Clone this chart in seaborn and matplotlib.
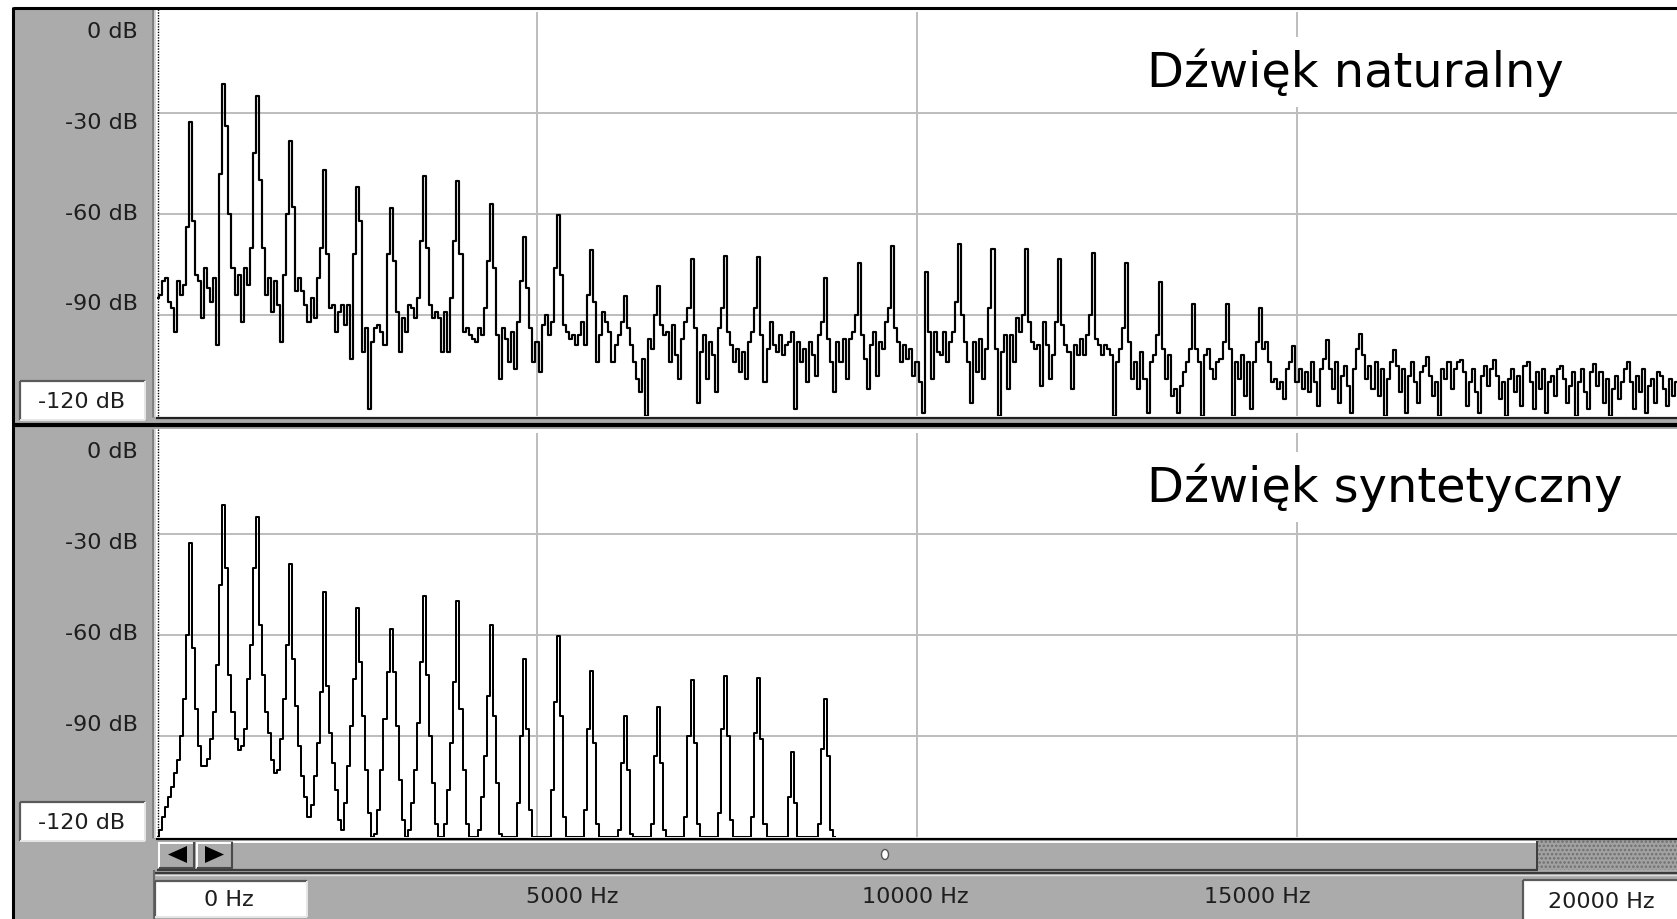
import numpy as np
import pandas as pd
import matplotlib
matplotlib.use("Agg")
import matplotlib.pyplot as plt
import seaborn as sns
from matplotlib.patches import Rectangle, Polygon, Ellipse
from matplotlib.lines import Line2D
from matplotlib.transforms import Affine2D

# ---------------- data ----------------
BIN_HZ = 40  # spectrum sampled every 40 Hz; row k starts at harmonic k (k*440 Hz)

natural_rows = [
    [-85, -84, -80, -79, -86, -88, -95, -80, -84, -81, -64],
    [-32.8, -62, -78, -80, -91, -76, -82, -86, -79, -99, -48],
    [-21.4, -34, -60, -76, -84, -78, -92, -76, -81, -70, -42],
    [-24.9, -50, -70, -84, -79, -89, -80, -87, -98, -78, -60],
    [-38.4, -58, -83, -79, -83, -87, -92, -85, -91, -79, -70],
    [-46.9, -72, -88, -87, -95, -89, -87, -93, -87, -103, -72],
    [-51.9, -62, -101, -94, -118, -98, -94, -93, -95, -99, -72],
    [-58.2, -74, -89, -101, -91, -95, -87, -88, -91, -85, -68],
    [-48.6, -70, -87, -91, -89, -91, -101, -89, -101, -85, -68],
    [-50.3, -72, -95, -94, -96, -97, -98, -94, -96, -88, -74],
    [-57.0, -76, -96, -109, -94, -97, -104, -95, -106, -92, -80],
    [-66.7, -82, -94, -104, -98, -107, -93, -90, -96, -92, -76],
    [-60.4, -78, -93, -95, -97, -96, -99, -96, -92, -99, -84],
    [-70.6, -86, -104, -96, -89, -92, -95, -104, -99, -96, -92],
    [-84.3, -94, -99, -104, -109, -113, -103, -120, -97, -100, -90],
    [-81.3, -93, -96, -95, -104, -93, -102, -109, -97, -92, -88],
    [-73.4, -94, -116, -101, -96, -109, -98, -102, -113, -94, -88],
    [-72.4, -95, -99, -104, -100, -107, -101, -109, -98, -95, -88],
    [-72.8, -96, -110, -100, -92, -99, -101, -96, -102, -99, -98],
    [-95.0, -118, -98, -104, -100, -110, -98, -102, -108, -96, -92],
    [-79.1, -97, -104, -113, -98, -104, -97, -109, -97, -95, -90],
    [-74.5, -96, -103, -112, -99, -95, -108, -98, -100, -92, -88],
    [-69.4, -94, -98, -104, -99, -103, -100, -108, -104, -110, -119],
    [-77.3, -95, -109, -95, -101, -102, -95, -104, -98, -95, -86],
    [-68.9, -90, -98, -104, -116, -98, -107, -97, -109, -100, -88],
    [-70.5, -100, -120, -101, -96, -112, -96, -104, -91, -95, -90],
    [-70.5, -92, -98, -100, -99, -111, -92, -99, -109, -102, -92],
    [-73.4, -93, -99, -101, -112, -99, -102, -97, -102, -96, -90],
    [-71.6, -97, -99, -102, -99, -100, -102, -120, -104, -100, -94],
    [-74.5, -98, -109, -104, -112, -101, -109, -119, -104, -102, -96],
    [-80.1, -100, -109, -102, -114, -112, -119, -111, -107, -104, -100],
    [-86.7, -100, -104, -120, -102, -100, -106, -109, -104, -103, -98],
    [-86.7, -100, -120, -104, -109, -102, -114, -104, -118, -104, -98],
    [-88.0, -100, -98, -104, -110, -109, -112, -110, -115, -106, -104],
    [-99.1, -110, -106, -112, -107, -113, -104, -110, -117, -106, -103],
    [-97.5, -106, -112, -104, -116, -108, -105, -111, -119, -106, -100],
    [-95.5, -102, -109, -105, -112, -104, -114, -106, -120, -109, -104],
    [-100.5, -105, -113, -106, -119, -108, -104, -110, -116, -107, -105],
    [-102.5, -108, -114, -110, -120, -106, -109, -104, -112, -106, -104],
    [-103.5, -107, -117, -110, -106, -113, -119, -108, -105, -111, -106],
    [-103.5, -108, -115, -110, -120, -109, -106, -113, -108, -117, -105],
    [-104.0, -110, -118, -107, -112, -106, -119, -110, -108, -114, -106],
    [-105.0, -109, -116, -111, -107, -120, -110, -106, -113, -118, -107],
    [-104.5, -111, -107, -116, -109, -120, -112, -108, -115, -110, -106],
    [-104.0, -110, -118, -108, -113, -106, -119, -111, -109, -116, -107],
    [-108.0, -112, -117, -109, -114, -110],
]

synthetic_rows = [
    [-120, -118, -114, -111, -108, -105, -101, -97, -90, -79, -60],
    [-32.8, -64, -82, -93, -98.8, -98.8, -96.8, -91, -83, -69, -45],
    [-21.4, -40, -72, -83, -91, -94.3, -93, -88, -73, -63, -40],
    [-24.9, -57, -72, -83, -89, -97, -101, -100, -91, -79, -63],
    [-38.9, -67, -81, -93, -102, -108, -114, -110.6, -102, -92, -77],
    [-47.3, -75, -89, -98, -106, -115, -118, -110, -99, -87, -73],
    [-52.0, -68, -84, -100, -113, -120, -119, -112, -100, -85, -71],
    [-58.2, -71, -87, -103, -115, -120, -118, -110, -100, -86, -68],
    [-48.5, -72, -90, -104, -116, -120, -120, -116, -106, -92, -74],
    [-49.8, -82, -100, -116, -120, -120, -120, -118, -108, -96, -78],
    [-56.9, -84, -104, -119, -120, -120, -120, -120, -120, -110, -90],
    [-67.1, -88, -112, -120, -120, -120, -120, -120, -120, -106, -80],
    [-60.4, -84, -114, -120, -120, -120, -120, -120, -120, -112, -88],
    [-70.6, -92, -116, -120, -120, -120, -120, -120, -120, -118, -98],
    [-84.1, -100, -119, -120, -120, -120, -120, -120, -120, -116, -96],
    [-81.5, -98, -118, -120, -120, -120, -120, -120, -120, -114, -90],
    [-73.3, -92, -116, -120, -120, -120, -120, -120, -120, -113, -88],
    [-72.3, -90, -115, -120, -120, -120, -120, -120, -120, -114, -89],
    [-72.8, -91, -116, -120, -120, -120, -120, -120, -120, -120, -108],
    [-94.8, -110, -120, -120, -120, -120, -120, -120, -120, -116, -94],
    [-79.0, -96, -118, -120],
]

natural_db = [v for row in natural_rows for v in row]
synthetic_db = [v for row in synthetic_rows for v in row]

freq_grid = [5000, 10000, 15000]
db_grid = [-30, -60, -90]
db_labels = ["0 dB", "-30 dB", "-60 dB", "-90 dB"]
floor_label = "-120 dB"
hz_labels = ["5000 Hz", "10000 Hz", "15000 Hz"]
hz_min_label = "0 Hz"
hz_max_label = "20000 Hz"
titles = ["Dźwięk naturalny", "Dźwięk syntetyczny"]

# ---------------- figure ----------------
W, H = 1677, 920
fig = plt.figure(figsize=(W / 100, H / 100), dpi=100)
fig.patch.set_facecolor("white")
PX = Affine2D().scale(1.0 / W, -1.0 / H).translate(0, 1) + fig.transFigure

GRAY = "#ababab"
GRID = "#bdbdbd"


def rect(x0, y0, x1, y1, fc, z=-1, **kw):
    fig.add_artist(Rectangle((x0, y0), x1 - x0, y1 - y0, transform=PX,
                             facecolor=fc, edgecolor=kw.pop("ec", "none"),
                             linewidth=kw.pop("lw", 0), zorder=z, **kw))


def seg(xs, ys, color, lw, z=5, **kw):
    fig.add_artist(Line2D(xs, ys, transform=PX, color=color, linewidth=lw,
                          zorder=z, solid_capstyle="butt", **kw))


def sunken_box(x0, y0, x1, y1):
    rect(x0, y0, x1, y1, "white", z=4)
    seg([x0, x1], [y0, y0], "#5a5a5a", 1.6, z=6)
    seg([x0, x0], [y0, y1], "#5a5a5a", 1.6, z=6)
    seg([x0, x1], [y1, y1], "#e6e6e6", 1.4, z=6)
    seg([x1, x1], [y0, y1], "#e6e6e6", 1.4, z=6)


# window background + borders
rect(13, 8, W, H, GRAY, z=-2)
seg([13, 13], [8, H], "black", 2.2, z=6)
seg([13, W], [9, 9], "black", 2.2, z=6)

# white plot backgrounds
rect(156, 10, W, 418, "white", z=-1)
rect(156, 430, W, 839, "white", z=-1)

# plot areas (seaborn line plots on real axes)
panels = [(13, 417, natural_db, 1.55), (434, 838, synthetic_db, 1.45)]
axes = []
for (ytop, ybot, vals, lw) in panels:
    ax = fig.add_axes([157 / W, 1 - ybot / H, (W - 157) / W, (ybot - ytop) / H])
    ax.set_facecolor("none")
    df = pd.DataFrame({"Hz": np.arange(len(vals)) * BIN_HZ, "dB": vals})
    sns.lineplot(data=df, x="Hz", y="dB", ax=ax, color="black", linewidth=lw,
                 drawstyle="steps-mid", estimator=None, sort=False, legend=False)
    ax.set_xlim(0, 20000)
    ax.set_ylim(-120, 0)
    ax.set_xticks(freq_grid)
    ax.set_yticks(db_grid)
    ax.grid(True, color=GRID, linewidth=1.4)
    ax.set_axisbelow(True)
    ax.tick_params(length=0, labelbottom=False, labelleft=False)
    ax.set_xlabel("")
    ax.set_ylabel("")
    for s in ax.spines.values():
        s.set_visible(False)
    axes.append(ax)

# left separators and dotted 0 Hz line
for (y0, y1) in [(10, 418), (430, 839)]:
    seg([153, 153], [y0, y1], "#7d7d7d", 2.0)
    seg([155.3, 155.3], [y0, y1], "#e2e2e2", 1.2)
    seg([157.8, 157.8], [y0, y1], "black", 1.0, linestyle=(0, (1, 1)))

# panel borders
seg([156, W], [418.5, 418.5], "#202020", 1.6)
seg([13, W], [425.5, 425.5], "black", 3.0)
seg([156, W], [839.5, 839.5], "black", 1.6)

# y labels
for ytop, ys in [(0, [32, 123, 214, 304]), (420, [452, 543, 634, 725])]:
    for lab, yy in zip(db_labels, ys):
        fig.text(138 / W, 1 - yy / H, lab, ha="right", va="center",
                 fontsize=16, color="#1e1e1e", family="DejaVu Sans")

for (y0, y1) in [(382, 421), (803, 842)]:
    sunken_box(20, y0, 145, y1)
    fig.text(82 / W, 1 - ((y0 + y1) / 2 + 1) / H, floor_label, ha="center",
             va="center", fontsize=16, color="#1e1e1e", zorder=7)

# titles with white background
title_pos = [(1147, 87), (1147, 502)]
for t, (xx, yy) in zip(titles, title_pos):
    fig.text(xx / W, 1 - yy / H, t, ha="left", va="baseline", fontsize=34.5,
             color="black", family="DejaVu Sans", zorder=8,
             bbox=dict(boxstyle="square,pad=0.22", facecolor="white", edgecolor="none"))

# scrollbar
rect(156, 841, 1538, 871, GRAY, z=3)
seg([233, 1538], [842.5, 842.5], "white", 1.4)
seg([157, 1538], [870.5, 870.5], "#3c3c3c", 1.6)
seg([1537.5, 1537.5], [842, 871], "#3c3c3c", 1.4)
for (bx0, bx1) in [(159, 195), (197, 233)]:
    rect(bx0, 843, bx1, 869, GRAY, z=4)
    seg([bx0, bx1], [843.5, 843.5], "white", 1.4, z=6)
    seg([bx0 + 0.5, bx0 + 0.5], [843, 869], "white", 1.4, z=6)
    seg([bx0, bx1], [868.5, 868.5], "#4a4a4a", 1.5, z=6)
    seg([bx1 - 0.5, bx1 - 0.5], [843, 869], "#4a4a4a", 1.5, z=6)
fig.add_artist(Polygon([(187, 847), (187, 864), (168, 855.5)], closed=True,
                       transform=PX, facecolor="black", edgecolor="none", zorder=7))
fig.add_artist(Polygon([(205, 847), (205, 864), (224, 855.5)], closed=True,
                       transform=PX, facecolor="black", edgecolor="none", zorder=7))
fig.add_artist(Ellipse((885, 855.5), 7, 10, transform=PX, facecolor="white",
                       edgecolor="#555555", linewidth=1.0, zorder=7))
plt.rcParams["hatch.linewidth"] = 1.2
rect(1538, 841, W, 871, "#a2a2a2", z=4, ec="#6f6f6f", lw=0, hatch="....")

seg([155, W], [873.5, 873.5], "#3a3a3a", 1.6)
seg([155, W], [876, 876], "#e0e0e0", 1.0)
seg([154, 154], [871, H], "#6a6a6a", 1.5)

# Hz labels
sunken_box(155, 882, 307, 918)
fig.text(229 / W, 1 - 900 / H, hz_min_label, ha="center", va="center",
         fontsize=16, color="#1e1e1e", zorder=7)
for lab, xx in zip(hz_labels, [572, 915, 1257]):
    fig.text(xx / W, 1 - 897 / H, lab, ha="center", va="center",
             fontsize=16, color="#1e1e1e", zorder=7)
sunken_box(1523, 881, W + 2, H + 2)
fig.text(1601 / W, 1 - 902 / H, hz_max_label, ha="center", va="center",
         fontsize=16, color="#1e1e1e", zorder=7)

fig.savefig("out.png", dpi=100)
